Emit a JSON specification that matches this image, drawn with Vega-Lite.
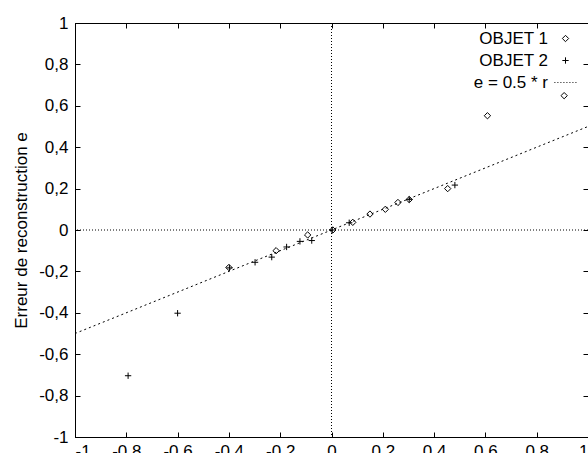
{
  "$schema": "https://vega.github.io/schema/vega-lite/v6.json",
  "width": 513,
  "height": 414,
  "autosize": {"type": "none"},
  "padding": {"left": 75, "top": 23, "right": 0, "bottom": 16},
  "view": {"stroke": "black", "strokeWidth": 1, "strokeDash": [2000, 1]},
  "config": {
    "font": "Liberation Sans",
    "axis": {
      "grid": false,
      "labelColor": "black",
      "labelFont": "Liberation Sans",
      "labelFontSize": 17,
      "titleFont": "Liberation Sans",
      "titleFontSize": 17,
      "titleFontWeight": "normal",
      "titleColor": "black"
    },
    "legend": {
      "labelFont": "Liberation Sans",
      "labelFontSize": 17,
      "labelColor": "black"
    }
  },
  "datasets": {
    "pts": [
      {"r": -0.4, "e": -0.181, "serie": "OBJET 1"},
      {"r": -0.216, "e": -0.1, "serie": "OBJET 1"},
      {"r": -0.093, "e": -0.024, "serie": "OBJET 1"},
      {"r": 0.005, "e": 0.0, "serie": "OBJET 1"},
      {"r": 0.083, "e": 0.037, "serie": "OBJET 1"},
      {"r": 0.15, "e": 0.077, "serie": "OBJET 1"},
      {"r": 0.21, "e": 0.1, "serie": "OBJET 1"},
      {"r": 0.259, "e": 0.133, "serie": "OBJET 1"},
      {"r": 0.303, "e": 0.147, "serie": "OBJET 1"},
      {"r": 0.453, "e": 0.2, "serie": "OBJET 1"},
      {"r": 0.608, "e": 0.552, "serie": "OBJET 1"},
      {"r": 0.907, "e": 0.649, "serie": "OBJET 1"},
      {"r": -0.793, "e": -0.704, "serie": "OBJET 2"},
      {"r": -0.6, "e": -0.402, "serie": "OBJET 2"},
      {"r": -0.398, "e": -0.183, "serie": "OBJET 2"},
      {"r": -0.298, "e": -0.156, "serie": "OBJET 2"},
      {"r": -0.233, "e": -0.131, "serie": "OBJET 2"},
      {"r": -0.175, "e": -0.082, "serie": "OBJET 2"},
      {"r": -0.123, "e": -0.055, "serie": "OBJET 2"},
      {"r": -0.077, "e": -0.051, "serie": "OBJET 2"},
      {"r": 0.003, "e": 0.0, "serie": "OBJET 2"},
      {"r": 0.069, "e": 0.035, "serie": "OBJET 2"},
      {"r": 0.303, "e": 0.148, "serie": "OBJET 2"},
      {"r": 0.481, "e": 0.217, "serie": "OBJET 2"}
    ],
    "ligne": [
      {"r": -1, "e": -0.5},
      {"r": 1, "e": 0.5}
    ],
    "zx": [{"v": 0}]
  },
  "resolve": {"axis": {"x": "independent", "y": "independent"}},
  "layer": [
    {
      "data": {"name": "zx"},
      "mark": {"type": "rule", "color": "black", "strokeWidth": 1, "strokeDash": [1, 2]},
      "encoding": {
        "x": {"field": "v", "type": "quantitative",
          "axis": {"orient": "top", "labels": false, "title": null, "zindex": 1,
            "domain": true, "domainColor": "black", "domainWidth": 1, "domainDash": [2000, 1],
            "ticks": true, "tickColor": "black", "tickWidth": 1, "tickDash": [20, 1], "tickSize": -5,
            "values": [-1, -0.8, -0.6, -0.4, -0.2, 0, 0.2, 0.4, 0.6, 0.8, 1]}}
      }
    },
    {
      "data": {"name": "zx"},
      "mark": {"type": "rule", "color": "black", "strokeWidth": 1, "strokeDash": [1, 2]},
      "encoding": {
        "y": {"field": "v", "type": "quantitative",
          "axis": {"orient": "right", "labels": false, "title": null, "zindex": 1,
            "domain": true, "domainColor": "black", "domainWidth": 1, "domainDash": [2000, 1],
            "ticks": true, "tickColor": "black", "tickWidth": 1, "tickDash": [20, 1], "tickSize": -5,
            "values": [-1, -0.8, -0.6, -0.4, -0.2, 0, 0.2, 0.4, 0.6, 0.8, 1]}}
      }
    },
    {
      "data": {"name": "ligne"},
      "mark": {"type": "line", "color": "black", "strokeWidth": 1, "strokeDash": [2, 3]},
      "encoding": {
        "x": {"field": "r", "type": "quantitative", "axis": null},
        "y": {"field": "e", "type": "quantitative", "axis": null}
      }
    },
    {
      "data": {"name": "pts"},
      "mark": {"type": "point", "filled": false, "stroke": "black", "strokeWidth": 1, "size": 40, "opacity": 1},
      "encoding": {
        "x": {"field": "r", "type": "quantitative",
          "scale": {"domain": [-1, 1], "nice": false, "zero": false},
          "axis": {"orient": "bottom", "title": null, "labelPadding": 11, "zindex": 1,
            "domain": true, "domainColor": "black", "domainWidth": 1, "domainDash": [2000, 1],
            "ticks": true, "tickColor": "black", "tickWidth": 1, "tickDash": [20, 1], "tickSize": -5,
            "values": [-1, -0.8, -0.6, -0.4, -0.2, 0, 0.2, 0.4, 0.6, 0.8, 1],
            "labelExpr": "replace(toString(datum.value), '.', ',')"}},
        "y": {"field": "e", "type": "quantitative",
          "scale": {"domain": [-1, 1], "nice": false, "zero": false},
          "axis": {"orient": "left", "title": "Erreur de reconstruction e", "labelPadding": 12, "titlePadding": 8, "zindex": 1,
            "domain": true, "domainColor": "black", "domainWidth": 1, "domainDash": [2000, 1],
            "ticks": true, "tickColor": "black", "tickWidth": 1, "tickDash": [20, 1], "tickSize": -5,
            "values": [-1, -0.8, -0.6, -0.4, -0.2, 0, 0.2, 0.4, 0.6, 0.8, 1],
            "labelExpr": "replace(toString(datum.value), '.', ',')"}},
        "shape": {"field": "serie", "type": "nominal",
          "scale": {"domain": ["OBJET 1", "OBJET 2", "e = 0.5 * r"],
            "range": ["M0,-1L1,0L0,1L-1,0Z", "M-1,0L1,0M0,-1L0,1", "M-3.5,0L-3.2,0M-2.55,0L-2.25,0M-1.6,0L-1.3,0M-0.65,0L-0.35,0M0.3,0L0.6,0M1.25,0L1.55,0M2.2,0L2.5,0M3.15,0L3.45,0"]},
          "legend": {
            "title": null,
            "orient": "none",
            "legendX": 482,
            "legendY": 7,
            "labelAlign": "right",
            "labelOffset": -26,
            "rowPadding": 4,
            "symbolSize": 40,
            "symbolStrokeColor": "black",
            "symbolFillColor": "transparent",
            "symbolStrokeWidth": 1
          }
        }
      }
    }
  ]
}
